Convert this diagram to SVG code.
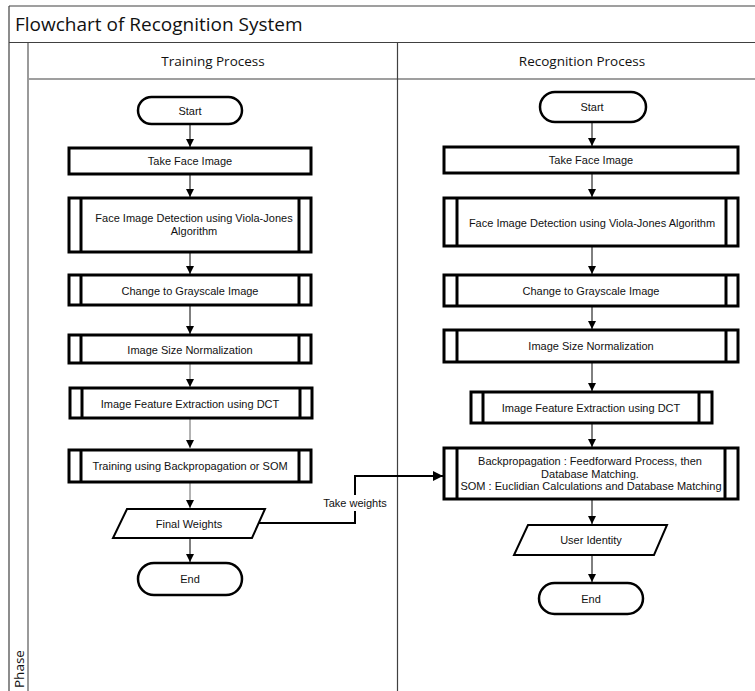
<svg xmlns="http://www.w3.org/2000/svg" width="755" height="691" viewBox="0 0 755 691">
<style>
.frame{stroke:#404040;stroke-width:1.2;fill:none}
.gray{stroke:#9a9a9a;stroke-width:2;fill:none}
.box{fill:#fff;stroke:#000;stroke-width:3}
.inner{stroke:#000;stroke-width:3}
.term{fill:#fff;stroke:#000;stroke-width:2.5}
.conn{stroke:#000;stroke-width:1;fill:none;marker-end:url(#ah)}
.connG{stroke:#666;stroke-width:1;fill:none;marker-end:url(#ah)}
.t{font-family:"Liberation Sans",Arial,sans-serif;font-size:11px;fill:#111;text-anchor:middle;dominant-baseline:central}
.h{font-family:"Open Sans","Liberation Sans",sans-serif;fill:#111}
</style>
<defs>
<marker id="ah" viewBox="0 0 8 8" refX="8" refY="4" markerWidth="8" markerHeight="8" markerUnits="userSpaceOnUse" orient="auto">
<path d="M0,0 L8,4 L0,8 z" fill="#000"/>
</marker>
<marker id="ah2" viewBox="0 0 10 10" refX="10" refY="5" markerWidth="10" markerHeight="10" markerUnits="userSpaceOnUse" orient="auto">
<path d="M0,0 L10,5 L0,10 z" fill="#000"/>
</marker>
</defs>
<rect width="755" height="691" fill="#fff"/>
<g id="frame">
<line class="frame" x1="9" y1="6" x2="755" y2="6"/>
<line class="frame" x1="9" y1="6" x2="9" y2="691"/>
<line class="frame" x1="9" y1="42.5" x2="755" y2="42.5"/>
<line class="frame" x1="28" y1="79" x2="755" y2="79"/>
<line class="gray" x1="28" y1="43" x2="28" y2="691"/>
<line class="frame" x1="397.5" y1="42" x2="397.5" y2="691"/>
<text class="h" x="15" y="31" font-size="19">Flowchart of Recognition System</text>
<text class="h" x="213" y="66" font-size="13.5" text-anchor="middle">Training Process</text>
<text class="h" x="582" y="66" font-size="13.5" text-anchor="middle">Recognition Process</text>
<text class="h" x="0" y="0" font-size="13.5" transform="translate(24,688) rotate(-90)">Phase</text>
</g>
<g id="connectors">
<line class="conn" x1="190" y1="124" x2="190" y2="147"/>
<line class="conn" x1="190" y1="174" x2="190" y2="197"/>
<line class="conn" x1="190" y1="252" x2="190" y2="274"/>
<line class="conn" x1="190" y1="305" x2="190" y2="334"/>
<line class="connG" x1="190" y1="363" x2="190" y2="387"/>
<line class="connG" x1="190" y1="418" x2="190" y2="448"/>
<line class="connG" x1="190" y1="482" x2="190" y2="508"/>
<line class="conn" x1="190" y1="538" x2="190" y2="562"/>
<line class="conn" x1="592" y1="123" x2="592" y2="146"/>
<line class="conn" x1="592" y1="173" x2="592" y2="197"/>
<line class="conn" x1="592" y1="246" x2="592" y2="274"/>
<line class="conn" x1="592" y1="306" x2="592" y2="329"/>
<line class="conn" x1="592" y1="362" x2="592" y2="391"/>
<line class="conn" x1="592" y1="423" x2="592" y2="447"/>
<line class="conn" x1="592" y1="499" x2="592" y2="524"/>
<line class="conn" x1="592" y1="555" x2="592" y2="582"/>
<path d="M258,523 H355 V476 H443" fill="none" stroke="#000" stroke-width="2" marker-end="url(#ah2)"/>
<rect x="322" y="495" width="66" height="16" fill="#fff"/>
<text class="t" x="355" y="503">Take weights</text>
</g>
<g id="t-start">
<rect class="term" x="138" y="97" width="104" height="27" rx="13.5"/>
<text class="t" x="190" y="110.5">Start</text>
</g>
<g id="t-take">
<rect class="box" x="69" y="148" width="242" height="26"/>
<text class="t" x="190" y="161">Take Face Image</text>
</g>
<g id="t-detect">
<rect class="box" x="69" y="198" width="242" height="54"/>
<line class="inner" x1="81" y1="198" x2="81" y2="252"/>
<line class="inner" x1="299" y1="198" x2="299" y2="252"/>
<text class="t" x="194" y="218">Face Image Detection using Viola-Jones</text>
<text class="t" x="194" y="231">Algorithm</text>
</g>
<g id="t-gray">
<rect class="box" x="69" y="275" width="242" height="30"/>
<line class="inner" x1="81" y1="275" x2="81" y2="305"/>
<line class="inner" x1="299" y1="275" x2="299" y2="305"/>
<text class="t" x="190" y="290.5">Change to Grayscale Image</text>
</g>
<g id="t-norm">
<rect class="box" x="69" y="335" width="242" height="28"/>
<line class="inner" x1="81" y1="335" x2="81" y2="363"/>
<line class="inner" x1="299" y1="335" x2="299" y2="363"/>
<text class="t" x="190" y="349.5">Image Size Normalization</text>
</g>
<g id="t-dct">
<rect class="box" x="70" y="388" width="242" height="30"/>
<line class="inner" x1="82" y1="388" x2="82" y2="418"/>
<line class="inner" x1="300" y1="388" x2="300" y2="418"/>
<text class="t" x="190" y="404">Image Feature Extraction using DCT</text>
</g>
<g id="t-train">
<rect class="box" x="69" y="450" width="242" height="32"/>
<line class="inner" x1="81" y1="450" x2="81" y2="482"/>
<line class="inner" x1="299" y1="450" x2="299" y2="482"/>
<text class="t" x="190" y="466">Training using Backpropagation or SOM</text>
</g>
<g id="t-weights">
<polygon points="127,509 265,509 252,538 113,538" fill="#fff" stroke="#000" stroke-width="2"/>
<text class="t" x="189" y="523.5">Final Weights</text>
</g>
<g id="t-end">
<rect class="term" x="138" y="563" width="104" height="32" rx="16"/>
<text class="t" x="190" y="579">End</text>
</g>
<g id="r-start">
<rect class="term" x="540" y="92" width="106" height="30" rx="15"/>
<text class="t" x="592" y="107">Start</text>
</g>
<g id="r-take">
<rect class="box" x="444" y="147" width="294" height="26"/>
<text class="t" x="591" y="159.5">Take Face Image</text>
</g>
<g id="r-detect">
<rect class="box" x="444" y="198" width="294" height="48"/>
<line class="inner" x1="457" y1="198" x2="457" y2="246"/>
<line class="inner" x1="726" y1="198" x2="726" y2="246"/>
<text class="t" x="592" y="222.5">Face Image Detection using Viola-Jones Algorithm</text>
</g>
<g id="r-gray">
<rect class="box" x="444" y="275" width="294" height="31"/>
<line class="inner" x1="457" y1="275" x2="457" y2="306"/>
<line class="inner" x1="726" y1="275" x2="726" y2="306"/>
<text class="t" x="591" y="291">Change to Grayscale Image</text>
</g>
<g id="r-norm">
<rect class="box" x="444" y="330" width="294" height="32"/>
<line class="inner" x1="457" y1="330" x2="457" y2="362"/>
<line class="inner" x1="726" y1="330" x2="726" y2="362"/>
<text class="t" x="591" y="346">Image Size Normalization</text>
</g>
<g id="r-dct">
<rect class="box" x="471" y="392" width="241" height="31"/>
<line class="inner" x1="483" y1="392" x2="483" y2="423"/>
<line class="inner" x1="699" y1="392" x2="699" y2="423"/>
<text class="t" x="591" y="408">Image Feature Extraction using DCT</text>
</g>
<g id="r-match">
<rect class="box" x="444" y="448" width="294" height="51"/>
<line class="inner" x1="457" y1="448" x2="457" y2="499"/>
<line class="inner" x1="725" y1="448" x2="725" y2="499"/>
<text class="t" x="590" y="461">Backpropagation : Feedforward Process, then</text>
<text class="t" x="590" y="473.5">Database Matching.</text>
<text class="t" x="591" y="486">SOM : Euclidian Calculations and Database Matching</text>
</g>
<g id="r-identity">
<polygon points="528,525 667,525 654,555 514,555" fill="#fff" stroke="#000" stroke-width="2"/>
<text class="t" x="591" y="540">User Identity</text>
</g>
<g id="r-end">
<rect class="term" x="539" y="583" width="104" height="31" rx="15.5"/>
<text class="t" x="591" y="599">End</text>
</g>
</svg>
